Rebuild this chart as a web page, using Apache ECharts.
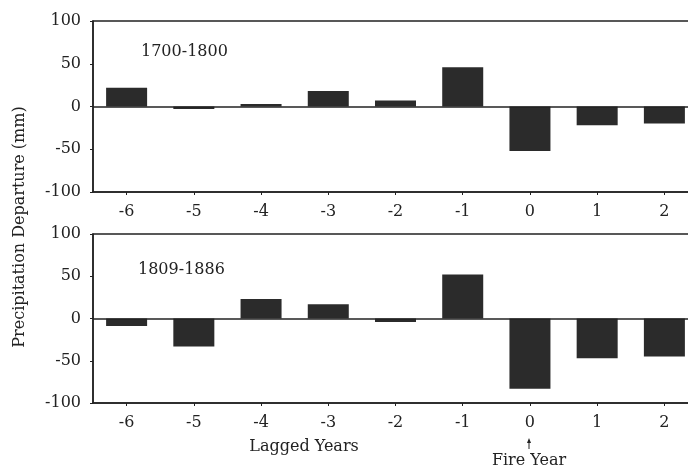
<!DOCTYPE html>
<html>
<head>
<meta charset="utf-8">
<script src="https://cdn.jsdelivr.net/npm/echarts@6/dist/echarts.min.js"></script>
<style>
html,body{margin:0;padding:0;background:#fff;overflow:hidden;width:688px;height:470px;}
#chart{width:700px;height:470px;}
</style>
</head>
<body>
<div id="chart"></div>
<script>
var categories = ['-6', '-5', '-4', '-3', '-2', '-1', '0', '1', '2'];
var period1Label = '1700-1800';
var period1Values = [22, -3, 3, 18, 7, 46, -52, -22, -20];
var period2Label = '1809-1886';
var period2Values = [-9, -33, 23, 17, -4, 52, -83, -47, -45];
var yTicks = { min: -100, max: 100, interval: 50 };
var yAxisTitle = 'Precipitation Departure (mm)';
var xAxisTitle = 'Lagged Years';
var fireYearLabel = 'Fire Year';

var FONT = 'DejaVu Serif';
var INK = '#222';
var BAR = '#2b2b2b';

var chart = echarts.init(document.getElementById('chart'), null, {renderer: 'canvas'});

function xAxisFor(idx) {
  return {
    type: 'category', gridIndex: idx, data: categories,
    axisLine: {show: true, onZero: false, lineStyle: {color: INK, width: 1.5}},
    axisTick: {show: true, alignWithLabel: true, length: 3, lineStyle: {color: INK}},
    axisLabel: {color: INK, fontFamily: FONT, fontSize: 16, margin: 12},
    splitLine: {show: false}
  };
}
function yAxisFor(idx) {
  return {
    type: 'value', gridIndex: idx, min: yTicks.min, max: yTicks.max, interval: yTicks.interval,
    axisLine: {show: true, lineStyle: {color: INK, width: 1.5}},
    axisTick: {show: true, length: 3, lineStyle: {color: INK}},
    axisLabel: {color: INK, fontFamily: FONT, fontSize: 16, margin: 12},
    splitLine: {show: false}
  };
}
function barSeries(idx, values) {
  return {
    type: 'bar', xAxisIndex: idx, yAxisIndex: idx, data: values, barWidth: '61%',
    itemStyle: {color: BAR}, silent: true,
    markLine: {
      silent: true, symbol: ['none', 'none'], label: {show: false},
      lineStyle: {color: INK, width: 1.5, type: 'solid'},
      data: [{yAxis: 0}]
    }
  };
}

chart.setOption({
  animation: false,
  backgroundColor: '#fff',
  title: [
    {text: period1Label, left: 141, top: 44, textStyle: {fontFamily: FONT, fontSize: 16, fontWeight: 'normal', color: INK}, padding: 0},
    {text: period2Label, left: 138, top: 262, textStyle: {fontFamily: FONT, fontSize: 16, fontWeight: 'normal', color: INK}, padding: 0}
  ],
  grid: [
    {left: 93, top: 21, right: 2, height: 171, show: true, borderColor: INK, borderWidth: 1.5, backgroundColor: 'transparent'},
    {left: 93, top: 234, right: 2, height: 169, show: true, borderColor: INK, borderWidth: 1.5, backgroundColor: 'transparent'}
  ],
  xAxis: [xAxisFor(0), xAxisFor(1)],
  yAxis: [yAxisFor(0), yAxisFor(1)],
  series: [barSeries(0, period1Values), barSeries(1, period2Values)],
  graphic: [
    {type: 'text', x: 20, y: 227, rotation: Math.PI / 2,
     style: {text: yAxisTitle, fontFamily: FONT, fontSize: 16, fill: INK, align: 'center', verticalAlign: 'middle'}},
    {type: 'text', x: 304, y: 447,
     style: {text: xAxisTitle, fontFamily: FONT, fontSize: 16, fill: INK, align: 'center', verticalAlign: 'middle'}},
    {type: 'text', x: 529, y: 461,
     style: {text: fireYearLabel, fontFamily: FONT, fontSize: 16, fill: INK, align: 'center', verticalAlign: 'middle'}},
    {type: 'line', shape: {x1: 529, y1: 442, x2: 529, y2: 449}, style: {stroke: INK, lineWidth: 1}},
    {type: 'polygon', shape: {points: [[529, 438], [527, 443], [531, 443]]}, style: {fill: INK}}
  ]
});
</script>
</body>
</html>
